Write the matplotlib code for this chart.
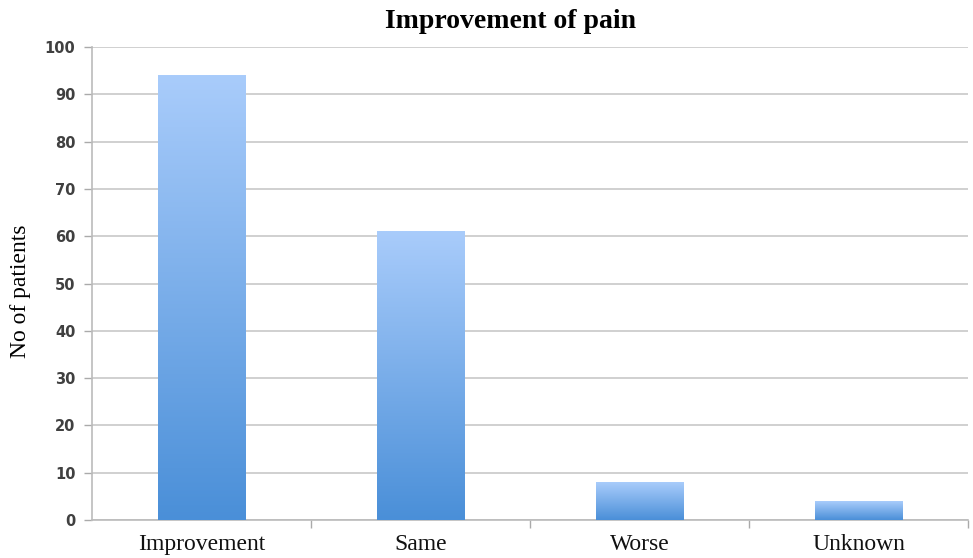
import numpy as np
import matplotlib
matplotlib.use("Agg")
import matplotlib.pyplot as plt
from matplotlib.colors import LinearSegmentedColormap

categories = ["Improvement", "Same", "Worse", "Unknown"]
values = [94, 61, 8, 4]
yticks = [0, 10, 20, 30, 40, 50, 60, 70, 80, 90, 100]

fig = plt.figure(figsize=(9.73, 5.58), dpi=100)
ax = fig.add_axes([92/973, 38/558, 876/973, 473/558])

cmap = LinearSegmentedColormap.from_list("g", ["#4a8fd8", "#a9ccfb"])
grad = np.linspace(0, 1, 256).reshape(-1, 1)
width = 0.4
x = np.arange(len(categories))
bars = ax.bar(x, values, width=width, color="none", zorder=3)
for b in bars:
    x0 = b.get_x()
    ax.imshow(grad, extent=[x0, x0 + b.get_width(), 0, b.get_height()],
              origin="lower", cmap=cmap, aspect="auto", zorder=3)

ax.set_xlim(-0.5, len(categories) - 0.5)
ax.set_ylim(0, 100)
ax.set_yticks(yticks)
ax.set_yticklabels([str(t) for t in yticks], fontsize=10.5, color="#404040",
                   family="DejaVu Sans", fontweight="bold")
ax.yaxis.grid(True, color="#c8c8c8", linewidth=1.2, zorder=0)
ax.set_axisbelow(True)

ax.set_xticks(x)
ax.set_xticklabels(categories, fontsize=17, family="Liberation Serif", color="#111111")
ax.tick_params(axis="x", length=0, pad=10)
ax.set_xticks(np.arange(len(categories)) + 0.5, minor=True)
ax.tick_params(axis="x", which="minor", length=6, color="#aaaaaa", width=1)
ax.tick_params(axis="y", length=6, color="#aaaaaa", width=1, pad=6)

for s in ["top", "right"]:
    ax.spines[s].set_visible(False)
ax.spines["left"].set_color("#bbbbbb")
ax.spines["bottom"].set_color("#bbbbbb")
ax.spines["left"].set_linewidth(1.2)
ax.spines["bottom"].set_linewidth(1.2)

fig.text(511/973, 1 - 22/558, "Improvement of pain", ha="center", va="center",
         fontsize=20, fontweight="bold", family="Liberation Serif")
fig.text(21/973, 1 - 291/558, "No of patients", ha="center", va="center",
         rotation=90, fontsize=17, family="Liberation Serif")

fig.savefig("out.png", dpi=100)
